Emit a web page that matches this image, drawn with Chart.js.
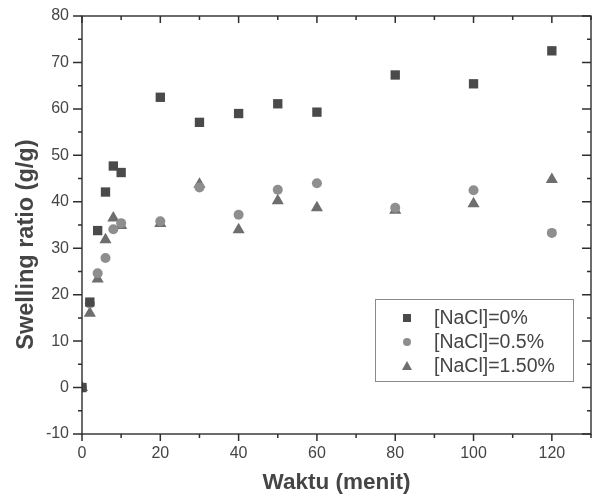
<!DOCTYPE html>
<html>
<head>
<meta charset="utf-8">
<script src="https://cdn.jsdelivr.net/npm/chart.js@4.4.1/dist/chart.umd.min.js"></script>
<style>
  html, body { margin: 0; padding: 0; background: #fff; }
  #wrap { width: 598px; height: 498px; }
</style>
</head>
<body>
<div id="wrap"><canvas id="c" width="598" height="498"></canvas></div>
<script>
// ---- data ----
const times = [0, 2, 4, 6, 8, 10, 20, 30, 40, 50, 60, 80, 100, 120];
const nacl0   = [0, 18.4, 33.8, 42.1, 47.7, 46.3, 62.5, 57.1, 59.0, 61.1, 59.3, 67.3, 65.4, 72.5];
const nacl05  = [0, 18.1, 24.6, 27.9, 34.1, 35.4, 35.8, 43.1, 37.2, 42.6, 44.0, 38.7, 42.5, 33.3];
const nacl150 = [0, 16.0, 23.4, 31.8, 36.5, 34.9, 35.3, 43.8, 34.0, 40.2, 38.7, 38.2, 39.6, 44.8];
const seriesLabels = ['[NaCl]=0%', '[NaCl]=0.5%', '[NaCl]=1.50%'];
const xTitle = 'Waktu (menit)';
const yTitle = 'Swelling ratio (g/g)';
const xMajorStep = 20, xMinorStep = 10;
const yMajorStep = 10, yMinorStep = 5;

const toPts = arr => times.map((t, i) => ({ x: t, y: arr[i] }));

const AXIS = '#2e2e2e';
const TXT = '#454545';

// frame, mirrored ticks and legend, drawn from the scales
const framePlugin = {
  id: 'frame',
  afterDraw(chart) {
    const { ctx, chartArea: a, scales } = chart;
    const xs = scales.x, ys = scales.y;
    ctx.save();
    ctx.strokeStyle = AXIS;
    ctx.lineWidth = 1.4;
    ctx.strokeRect(a.left, a.top, a.right - a.left, a.bottom - a.top);

    ctx.lineWidth = 1.5;
    const nx = Math.round((xs.max - xs.min) / xMinorStep);
    for (let i = 0; i <= nx; i++) {
      const v = xs.min + i * xMinorStep;
      const px = xs.getPixelForValue(v);
      const L = (Math.round(v) % xMajorStep === 0) ? 7 : 4;
      ctx.beginPath();
      ctx.moveTo(px, a.bottom); ctx.lineTo(px, a.bottom + L);
      ctx.moveTo(px, a.top); ctx.lineTo(px, a.top + L);
      ctx.stroke();
    }
    const ny = Math.round((ys.max - ys.min) / yMinorStep);
    for (let i = 0; i <= ny; i++) {
      const v = ys.min + i * yMinorStep;
      const py = ys.getPixelForValue(v);
      const L = (Math.round(v) % yMajorStep === 0) ? 9 : 4;
      ctx.beginPath();
      ctx.moveTo(a.left, py); ctx.lineTo(a.left - L, py);
      ctx.moveTo(a.right, py); ctx.lineTo(a.right - L, py);
      ctx.stroke();
    }

    // legend box
    const bx = 375, by = 299, bw = 198, bh = 82;
    ctx.fillStyle = '#fff';
    ctx.fillRect(bx, by, bw, bh);
    ctx.strokeStyle = '#8a8a8a';
    ctx.lineWidth = 1;
    ctx.strokeRect(bx + 0.5, by + 0.5, bw, bh);
    ctx.font = '19.5px "Liberation Sans", Arial, sans-serif';
    ctx.textBaseline = 'middle';
    ctx.textAlign = 'left';
    chart.data.datasets.forEach((ds, i) => {
      const cy = by + 19 + i * 24;
      const cx = bx + 32;
      ctx.fillStyle = ds.backgroundColor;
      ctx.beginPath();
      if (ds.pointStyle === 'rect') {
        ctx.rect(cx - 4, cy - 4, 8, 8);
      } else if (ds.pointStyle === 'circle') {
        ctx.arc(cx, cy, 4, 0, Math.PI * 2);
      } else {
        ctx.moveTo(cx, cy - 5); ctx.lineTo(cx + 5, cy + 4); ctx.lineTo(cx - 5, cy + 4); ctx.closePath();
      }
      ctx.fill();
      ctx.fillStyle = TXT;
      ctx.fillText(ds.label, bx + 59, cy + 1);
    });
    ctx.restore();
  }
};

new Chart(document.getElementById('c'), {
  type: 'scatter',
  data: {
    datasets: [
      { label: seriesLabels[0], data: toPts(nacl0), pointStyle: 'rect', pointRadius: 6.6, pointHoverRadius: 6.6,
        backgroundColor: '#4a4a4a', borderColor: '#4a4a4a', borderWidth: 0 },
      { label: seriesLabels[1], data: toPts(nacl05), pointStyle: 'circle', pointRadius: 5, pointHoverRadius: 5,
        backgroundColor: '#8e8e8e', borderColor: '#8e8e8e', borderWidth: 0 },
      { label: seriesLabels[2], data: toPts(nacl150), pointStyle: 'triangle', pointRadius: 7, pointHoverRadius: 7,
        backgroundColor: '#6e6e6e', borderColor: '#6e6e6e', borderWidth: 0 }
    ]
  },
  options: {
    responsive: false,
    animation: false,
    devicePixelRatio: 1,
    layout: { padding: { top: 16, right: 2, left: 0, bottom: 0 } },
    plugins: { legend: { display: false }, tooltip: { enabled: false } },
    scales: {
      x: {
        type: 'linear', min: 0, max: 130,
        afterFit(s) { s.height = 64; },
        grid: { display: true, drawOnChartArea: false, drawTicks: true, tickLength: 7, tickColor: 'rgba(0,0,0,0)' },
        border: { display: false },
        ticks: { stepSize: xMinorStep, autoSkip: false, maxRotation: 0, padding: 3, color: TXT,
          font: { family: '"Liberation Sans", Arial, sans-serif', size: 16 },
          callback: v => (v % xMajorStep === 0 && v <= 120) ? String(v) : '' },
        title: { display: true, text: xTitle, color: TXT, padding: { top: 0, bottom: 2 },
          font: { family: '"Liberation Sans", Arial, sans-serif', size: 22.5, weight: 'bold' } }
      },
      y: {
        type: 'linear', min: -10, max: 80,
        afterFit(s) { s.width = 82; },
        grid: { display: true, drawOnChartArea: false, drawTicks: true, tickLength: 9, tickColor: 'rgba(0,0,0,0)' },
        border: { display: false },
        ticks: { stepSize: yMinorStep, autoSkip: false, padding: 4, color: TXT,
          font: { family: '"Liberation Sans", Arial, sans-serif', size: 16 },
          callback: v => (v % yMajorStep === 0) ? String(v) : '' },
        title: { display: true, text: yTitle + '      ', color: TXT, padding: { top: 12, bottom: 0 },
          font: { family: '"Liberation Sans", Arial, sans-serif', size: 23.5, weight: 'bold' } }
      }
    }
  },
  plugins: [framePlugin]
});
</script>
</body>
</html>
